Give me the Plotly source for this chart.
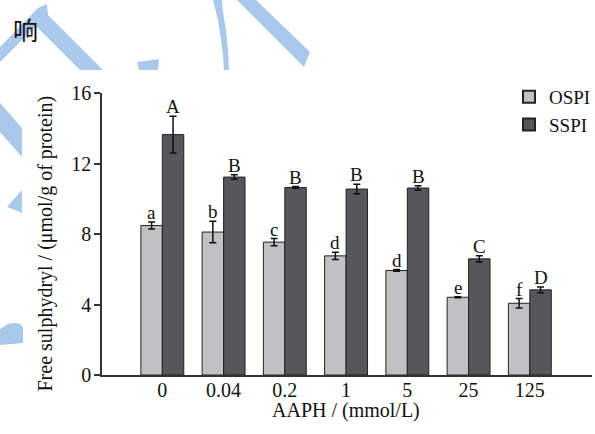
import plotly.graph_objects as go

# ---- data ----
categories = ["0", "0.04", "0.2", "1", "5", "25", "125"]
ospi_values = [8.48, 8.11, 7.54, 6.76, 5.93, 4.41, 4.07]
ospi_errors = [0.20, 0.61, 0.20, 0.21, 0.05, 0.03, 0.27]
ospi_letters = ["a", "b", "c", "d", "d", "e", "f"]
sspi_values = [13.64, 11.23, 10.64, 10.55, 10.61, 6.59, 4.83]
sspi_errors = [1.04, 0.13, 0.05, 0.27, 0.13, 0.18, 0.17]
sspi_letters = ["A", "B", "B", "B", "B", "C", "D"]
y_ticks = [0, 4, 8, 12, 16]

W, H = 595, 434
L, R, T, B = 102, 3, 93, 59
PW, PH = W - L - R, H - T - B

def px_x(px):
    return (px - L) / PW

def px_y(py):
    return (H - B - py) / PH

FONT = "Liberation Serif, Times New Roman, serif"
BLUE = "#aac8ea"

fig = go.Figure()
fig.add_trace(go.Bar(
    name="OSPI", x=categories, y=ospi_values,
    marker=dict(color="#c0c1c3", line=dict(color="#222222", width=1)),
    error_y=dict(type="data", array=ospi_errors, color="#111111", thickness=1.5, width=3.5),
))
fig.add_trace(go.Bar(
    name="SSPI", x=categories, y=sspi_values,
    marker=dict(color="#55575a", line=dict(color="#222222", width=1)),
    error_y=dict(type="data", array=sspi_errors, color="#111111", thickness=1.5, width=3.5),
))

annotations = []
half = 0.175 * PW / 8.0
for i, (v, e, t) in enumerate(zip(ospi_values, ospi_errors, ospi_letters)):
    annotations.append(dict(x=i, y=v + e, text=t, showarrow=False, xshift=-half,
                            yanchor="bottom", yshift=-3,
                            font=dict(family=FONT, size=19, color="#111111")))
for i, (v, e, t) in enumerate(zip(sspi_values, sspi_errors, sspi_letters)):
    annotations.append(dict(x=i, y=v + e, text=t, showarrow=False, xshift=half,
                            yanchor="bottom", yshift=-3,
                            font=dict(family=FONT, size=19, color="#111111")))

# axis titles (placed as annotations to match their positions)
annotations.append(dict(xref="paper", yref="paper", x=px_x(45), y=px_y(243.5),
                        text="Free sulphydryl / (μmol/g of protein)", textangle=-90,
                        showarrow=False, xanchor="center", yanchor="middle",
                        font=dict(family=FONT, size=20, color="#111111")))
annotations.append(dict(xref="paper", yref="paper", x=px_x(346), y=px_y(410),
                        text="AAPH / (mmol/L)", showarrow=False,
                        xanchor="center", yanchor="middle",
                        font=dict(family=FONT, size=20, color="#111111")))
# stray character from the source page
annotations.append(dict(xref="paper", yref="paper", x=px_x(25), y=px_y(29),
                        text="响", showarrow=False, xanchor="center", yanchor="middle",
                        font=dict(family="Noto Sans CJK SC", size=25, color="#111111")))

# decorative light-blue background strokes
polys = [
    [(0, 47), (38, 8), (47, 4), (48, 15), (103, 70), (80, 70), (36, 26), (0, 62)],
    [(137, 62), (159, 59), (158, 70), (139, 70)],
    [(213, 0), (218, 20), (221, 40), (223, 55), (224, 70), (229, 70), (228, 50),
     (226, 30), (223, 12), (222, 0)],
    [(237, 0), (256, 0), (310, 52), (304, 67)],
    [(0, 103), (22, 128), (22, 157), (0, 132)],
    [(22, 190), (7, 207), (22, 213)],
    [(0, 329), (8, 324), (15, 323), (20, 324), (23, 327), (23, 343), (0, 345)],
]
shapes = []
for p in polys:
    path = "M " + " L ".join(f"{px_x(a):.5f},{px_y(b):.5f}" for a, b in p) + " Z"
    shapes.append(dict(type="path", xref="paper", yref="paper", path=path,
                       fillcolor=BLUE, line=dict(width=0), layer="below"))

fig.update_layout(
    width=W, height=H,
    margin=dict(l=L, r=R, t=T, b=B, pad=0, autoexpand=False),
    paper_bgcolor="white", plot_bgcolor="rgba(0,0,0,0)",
    barmode="group", bargap=0.3, bargroupgap=0,
    font=dict(family=FONT, size=20, color="#111111"),
    showlegend=True,
    legend=dict(x=px_x(596), y=px_y(78), xanchor="right", yanchor="top",
                bgcolor="rgba(0,0,0,0)", font=dict(family=FONT, size=19),
                itemsizing="constant", tracegroupgap=0),
    xaxis=dict(type="category", range=[-0.985, 7.015], showline=True,
               linecolor="#333333", linewidth=1.5, ticks="", showgrid=False,
               tickfont=dict(family=FONT, size=20), ticklabelstandoff=-4,
               automargin=False),
    yaxis=dict(range=[0, 16], tickvals=y_ticks, showline=True, linecolor="#333333",
               linewidth=1.5, ticks="outside", ticklen=6, tickwidth=1.5, tickcolor="#333333",
               showgrid=False, zeroline=False, tickfont=dict(family=FONT, size=20),
               ticklabelstandoff=-1, automargin=False),
    annotations=annotations,
    shapes=shapes,
)

fig.write_html("out.html", config={"displayModeBar": False},
               post_script="document.body.style.margin='0';document.body.style.overflow='hidden';")
